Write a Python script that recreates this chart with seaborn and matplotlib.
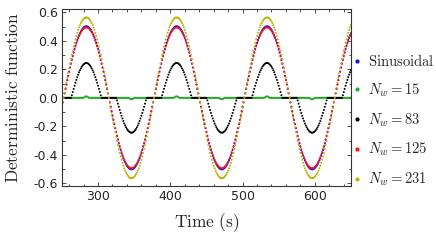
import numpy as np
import pandas as pd
import matplotlib
matplotlib.use("Agg")
import matplotlib.pyplot as plt
import seaborn as sns
from matplotlib.lines import Line2D
from matplotlib.ticker import MultipleLocator, FormatStrFormatter

# one sample every 1.25 s from 250 s to 650 s
t_start, t_step = 250.0, 1.25

sinusoidal = [
    -0.063, -0.032,
    0.0, 0.032, 0.063, 0.094, 0.125, 0.155, 0.185, 0.214, 0.242, 0.270, 0.296, 0.321, 0.344,
    0.367, 0.388, 0.407, 0.425, 0.441, 0.455, 0.468, 0.478, 0.487, 0.494, 0.499, 0.502, 0.503,
    0.502, 0.499, 0.494, 0.487, 0.478, 0.468, 0.455, 0.441, 0.425, 0.407, 0.388, 0.367, 0.344,
    0.321, 0.296, 0.270, 0.242, 0.214, 0.185, 0.155, 0.125, 0.094, 0.063, 0.032, 0.0,
    -0.032, -0.063, -0.094, -0.125, -0.155, -0.185, -0.214, -0.242, -0.270, -0.296, -0.321, -0.344,
    -0.367, -0.388, -0.407, -0.425, -0.441, -0.455, -0.468, -0.478, -0.487, -0.494, -0.499, -0.502, -0.503,
    -0.502, -0.499, -0.494, -0.487, -0.478, -0.468, -0.455, -0.441, -0.425, -0.407, -0.388, -0.367, -0.344,
    -0.321, -0.296, -0.270, -0.242, -0.214, -0.185, -0.155, -0.125, -0.094, -0.063, -0.032,
    0.0, 0.032, 0.063, 0.094, 0.125, 0.155, 0.185, 0.214, 0.242, 0.270, 0.296, 0.321, 0.344,
    0.367, 0.388, 0.407, 0.425, 0.441, 0.455, 0.468, 0.478, 0.487, 0.494, 0.499, 0.502, 0.503,
    0.502, 0.499, 0.494, 0.487, 0.478, 0.468, 0.455, 0.441, 0.425, 0.407, 0.388, 0.367, 0.344,
    0.321, 0.296, 0.270, 0.242, 0.214, 0.185, 0.155, 0.125, 0.094, 0.063, 0.032, 0.0,
    -0.032, -0.063, -0.094, -0.125, -0.155, -0.185, -0.214, -0.242, -0.270, -0.296, -0.321, -0.344,
    -0.367, -0.388, -0.407, -0.425, -0.441, -0.455, -0.468, -0.478, -0.487, -0.494, -0.499, -0.502, -0.503,
    -0.502, -0.499, -0.494, -0.487, -0.478, -0.468, -0.455, -0.441, -0.425, -0.407, -0.388, -0.367, -0.344,
    -0.321, -0.296, -0.270, -0.242, -0.214, -0.185, -0.155, -0.125, -0.094, -0.063, -0.032,
    0.0, 0.032, 0.063, 0.094, 0.125, 0.155, 0.185, 0.214, 0.242, 0.270, 0.296, 0.321, 0.344,
    0.367, 0.388, 0.407, 0.425, 0.441, 0.455, 0.468, 0.478, 0.487, 0.494, 0.499, 0.502, 0.503,
    0.502, 0.499, 0.494, 0.487, 0.478, 0.468, 0.455, 0.441, 0.425, 0.407, 0.388, 0.367, 0.344,
    0.321, 0.296, 0.270, 0.242, 0.214, 0.185, 0.155, 0.125, 0.094, 0.063, 0.032, 0.0,
    -0.032, -0.063, -0.094, -0.125, -0.155, -0.185, -0.214, -0.242, -0.270, -0.296, -0.321, -0.344,
    -0.367, -0.388, -0.407, -0.425, -0.441, -0.455, -0.468, -0.478, -0.487, -0.494, -0.499, -0.502, -0.503,
    -0.502, -0.499, -0.494, -0.487, -0.478, -0.468, -0.455, -0.441, -0.425, -0.407, -0.388, -0.367, -0.344,
    -0.321, -0.296, -0.270, -0.242, -0.214, -0.185, -0.155, -0.125, -0.094, -0.063, -0.032,
    0.0, 0.032, 0.063, 0.094, 0.125, 0.155, 0.185, 0.214, 0.242, 0.270, 0.296, 0.321, 0.344,
    0.367, 0.388, 0.407, 0.425, 0.441, 0.455,
]

nw15 = [
    0, 0, 0, 0, 0, 0, 0, 0, 0, 0, 0, 0, 0, 0, 0, 0, 0, 0, 0, 0, 0, 0, 0, 0, 0,
    0.005, 0.009, 0.010, 0.009, 0.005,
    0, 0, 0, 0, 0, 0, 0, 0, 0, 0, 0, 0, 0, 0, 0, 0, 0, 0, 0, 0, 0, 0, 0,
    0, 0, 0, 0, 0, 0, 0, 0, 0, 0, 0, 0, 0, 0, 0, 0, 0, 0, 0, 0, 0, 0,
    -0.005, -0.009, -0.010, -0.009, -0.005,
    0, 0, 0, 0, 0, 0, 0, 0, 0, 0, 0, 0, 0, 0, 0, 0, 0, 0, 0, 0, 0, 0, 0,
    0, 0, 0, 0, 0, 0, 0, 0, 0, 0, 0, 0, 0, 0, 0, 0, 0, 0, 0, 0, 0, 0,
    0.005, 0.009, 0.010, 0.009, 0.005,
    0, 0, 0, 0, 0, 0, 0, 0, 0, 0, 0, 0, 0, 0, 0, 0, 0, 0, 0, 0, 0, 0, 0,
    0, 0, 0, 0, 0, 0, 0, 0, 0, 0, 0, 0, 0, 0, 0, 0, 0, 0, 0, 0, 0, 0,
    -0.005, -0.009, -0.010, -0.009, -0.005,
    0, 0, 0, 0, 0, 0, 0, 0, 0, 0, 0, 0, 0, 0, 0, 0, 0, 0, 0, 0, 0, 0, 0,
    0, 0, 0, 0, 0, 0, 0, 0, 0, 0, 0, 0, 0, 0, 0, 0, 0, 0, 0, 0, 0, 0,
    0.005, 0.009, 0.010, 0.009, 0.005,
    0, 0, 0, 0, 0, 0, 0, 0, 0, 0, 0, 0, 0, 0, 0, 0, 0, 0, 0, 0, 0, 0, 0,
    0, 0, 0, 0, 0, 0, 0, 0, 0, 0, 0, 0, 0, 0, 0, 0, 0, 0, 0, 0, 0, 0,
    -0.005, -0.009, -0.010, -0.009, -0.005,
    0, 0, 0, 0, 0, 0, 0, 0, 0, 0, 0, 0, 0, 0, 0, 0, 0, 0, 0, 0, 0,
    0, 0, 0, 0, 0, 0, 0, 0, 0, 0, 0, 0, 0, 0, 0, 0, 0, 0, 0, 0,
]

nw83 = [
    0, 0, 0, 0, 0, 0, 0, 0, 0, 0, 0,
    0.018, 0.041, 0.063, 0.085, 0.106, 0.126, 0.145, 0.163, 0.180, 0.194, 0.207, 0.219, 0.228,
    0.235, 0.241, 0.244, 0.245, 0.244, 0.241, 0.235, 0.228, 0.219, 0.207, 0.194, 0.180, 0.163,
    0.145, 0.126, 0.106, 0.085, 0.063, 0.041, 0.018,
    0, 0, 0, 0, 0, 0, 0, 0, 0, 0, 0, 0, 0, 0, 0, 0, 0,
    -0.018, -0.041, -0.063, -0.085, -0.106, -0.126, -0.145, -0.163, -0.180, -0.194, -0.207, -0.219, -0.228,
    -0.235, -0.241, -0.244, -0.245, -0.244, -0.241, -0.235, -0.228, -0.219, -0.207, -0.194, -0.180, -0.163,
    -0.145, -0.126, -0.106, -0.085, -0.063, -0.041, -0.018,
    0, 0, 0, 0, 0, 0, 0, 0, 0, 0, 0, 0, 0, 0, 0, 0, 0,
    0.018, 0.041, 0.063, 0.085, 0.106, 0.126, 0.145, 0.163, 0.180, 0.194, 0.207, 0.219, 0.228,
    0.235, 0.241, 0.244, 0.245, 0.244, 0.241, 0.235, 0.228, 0.219, 0.207, 0.194, 0.180, 0.163,
    0.145, 0.126, 0.106, 0.085, 0.063, 0.041, 0.018,
    0, 0, 0, 0, 0, 0, 0, 0, 0, 0, 0, 0, 0, 0, 0, 0, 0,
    -0.018, -0.041, -0.063, -0.085, -0.106, -0.126, -0.145, -0.163, -0.180, -0.194, -0.207, -0.219, -0.228,
    -0.235, -0.241, -0.244, -0.245, -0.244, -0.241, -0.235, -0.228, -0.219, -0.207, -0.194, -0.180, -0.163,
    -0.145, -0.126, -0.106, -0.085, -0.063, -0.041, -0.018,
    0, 0, 0, 0, 0, 0, 0, 0, 0, 0, 0, 0, 0, 0, 0, 0, 0,
    0.018, 0.041, 0.063, 0.085, 0.106, 0.126, 0.145, 0.163, 0.180, 0.194, 0.207, 0.219, 0.228,
    0.235, 0.241, 0.244, 0.245, 0.244, 0.241, 0.235, 0.228, 0.219, 0.207, 0.194, 0.180, 0.163,
    0.145, 0.126, 0.106, 0.085, 0.063, 0.041, 0.018,
    0, 0, 0, 0, 0, 0, 0, 0, 0, 0, 0, 0, 0, 0, 0, 0, 0,
    -0.018, -0.041, -0.063, -0.085, -0.106, -0.126, -0.145, -0.163, -0.180, -0.194, -0.207, -0.219, -0.228,
    -0.235, -0.241, -0.244, -0.245, -0.244, -0.241, -0.235, -0.228, -0.219, -0.207, -0.194, -0.180, -0.163,
    -0.145, -0.126, -0.106, -0.085, -0.063, -0.041, -0.018,
    0, 0, 0, 0, 0, 0, 0, 0, 0, 0, 0, 0, 0, 0, 0, 0, 0,
    0.018, 0.041, 0.063, 0.085, 0.106, 0.126, 0.145, 0.163, 0.180, 0.194,
]

nw125 = [
    -0.062, -0.031,
    0.0, 0.031, 0.062, 0.093, 0.123, 0.153, 0.182, 0.211, 0.238, 0.265, 0.291, 0.316, 0.339,
    0.361, 0.381, 0.400, 0.418, 0.434, 0.448, 0.460, 0.471, 0.479, 0.486, 0.491, 0.494, 0.495,
    0.494, 0.491, 0.486, 0.479, 0.471, 0.460, 0.448, 0.434, 0.418, 0.400, 0.381, 0.361, 0.339,
    0.316, 0.291, 0.265, 0.238, 0.211, 0.182, 0.153, 0.123, 0.093, 0.062, 0.031, 0.0,
    -0.031, -0.062, -0.093, -0.123, -0.153, -0.182, -0.211, -0.238, -0.265, -0.291, -0.316, -0.339,
    -0.361, -0.381, -0.400, -0.418, -0.434, -0.448, -0.460, -0.471, -0.479, -0.486, -0.491, -0.494, -0.495,
    -0.494, -0.491, -0.486, -0.479, -0.471, -0.460, -0.448, -0.434, -0.418, -0.400, -0.381, -0.361, -0.339,
    -0.316, -0.291, -0.265, -0.238, -0.211, -0.182, -0.153, -0.123, -0.093, -0.062, -0.031,
    0.0, 0.031, 0.062, 0.093, 0.123, 0.153, 0.182, 0.211, 0.238, 0.265, 0.291, 0.316, 0.339,
    0.361, 0.381, 0.400, 0.418, 0.434, 0.448, 0.460, 0.471, 0.479, 0.486, 0.491, 0.494, 0.495,
    0.494, 0.491, 0.486, 0.479, 0.471, 0.460, 0.448, 0.434, 0.418, 0.400, 0.381, 0.361, 0.339,
    0.316, 0.291, 0.265, 0.238, 0.211, 0.182, 0.153, 0.123, 0.093, 0.062, 0.031, 0.0,
    -0.031, -0.062, -0.093, -0.123, -0.153, -0.182, -0.211, -0.238, -0.265, -0.291, -0.316, -0.339,
    -0.361, -0.381, -0.400, -0.418, -0.434, -0.448, -0.460, -0.471, -0.479, -0.486, -0.491, -0.494, -0.495,
    -0.494, -0.491, -0.486, -0.479, -0.471, -0.460, -0.448, -0.434, -0.418, -0.400, -0.381, -0.361, -0.339,
    -0.316, -0.291, -0.265, -0.238, -0.211, -0.182, -0.153, -0.123, -0.093, -0.062, -0.031,
    0.0, 0.031, 0.062, 0.093, 0.123, 0.153, 0.182, 0.211, 0.238, 0.265, 0.291, 0.316, 0.339,
    0.361, 0.381, 0.400, 0.418, 0.434, 0.448, 0.460, 0.471, 0.479, 0.486, 0.491, 0.494, 0.495,
    0.494, 0.491, 0.486, 0.479, 0.471, 0.460, 0.448, 0.434, 0.418, 0.400, 0.381, 0.361, 0.339,
    0.316, 0.291, 0.265, 0.238, 0.211, 0.182, 0.153, 0.123, 0.093, 0.062, 0.031, 0.0,
    -0.031, -0.062, -0.093, -0.123, -0.153, -0.182, -0.211, -0.238, -0.265, -0.291, -0.316, -0.339,
    -0.361, -0.381, -0.400, -0.418, -0.434, -0.448, -0.460, -0.471, -0.479, -0.486, -0.491, -0.494, -0.495,
    -0.494, -0.491, -0.486, -0.479, -0.471, -0.460, -0.448, -0.434, -0.418, -0.400, -0.381, -0.361, -0.339,
    -0.316, -0.291, -0.265, -0.238, -0.211, -0.182, -0.153, -0.123, -0.093, -0.062, -0.031,
    0.0, 0.031, 0.062, 0.093, 0.123, 0.153, 0.182, 0.211, 0.238, 0.265, 0.291, 0.316, 0.339,
    0.361, 0.381, 0.400, 0.418, 0.434, 0.448,
]

nw231 = [
    -0.071, -0.035,
    0.0, 0.035, 0.071, 0.106, 0.141, 0.175, 0.208, 0.241, 0.272, 0.303, 0.332, 0.360, 0.387,
    0.412, 0.435, 0.457, 0.477, 0.495, 0.511, 0.525, 0.537, 0.547, 0.555, 0.561, 0.564, 0.565,
    0.564, 0.561, 0.555, 0.547, 0.537, 0.525, 0.511, 0.495, 0.477, 0.457, 0.435, 0.412, 0.387,
    0.360, 0.332, 0.303, 0.272, 0.241, 0.208, 0.175, 0.141, 0.106, 0.071, 0.035, 0.0,
    -0.035, -0.071, -0.106, -0.141, -0.175, -0.208, -0.241, -0.272, -0.303, -0.332, -0.360, -0.387,
    -0.412, -0.435, -0.457, -0.477, -0.495, -0.511, -0.525, -0.537, -0.547, -0.555, -0.561, -0.564, -0.565,
    -0.564, -0.561, -0.555, -0.547, -0.537, -0.525, -0.511, -0.495, -0.477, -0.457, -0.435, -0.412, -0.387,
    -0.360, -0.332, -0.303, -0.272, -0.241, -0.208, -0.175, -0.141, -0.106, -0.071, -0.035,
    0.0, 0.035, 0.071, 0.106, 0.141, 0.175, 0.208, 0.241, 0.272, 0.303, 0.332, 0.360, 0.387,
    0.412, 0.435, 0.457, 0.477, 0.495, 0.511, 0.525, 0.537, 0.547, 0.555, 0.561, 0.564, 0.565,
    0.564, 0.561, 0.555, 0.547, 0.537, 0.525, 0.511, 0.495, 0.477, 0.457, 0.435, 0.412, 0.387,
    0.360, 0.332, 0.303, 0.272, 0.241, 0.208, 0.175, 0.141, 0.106, 0.071, 0.035, 0.0,
    -0.035, -0.071, -0.106, -0.141, -0.175, -0.208, -0.241, -0.272, -0.303, -0.332, -0.360, -0.387,
    -0.412, -0.435, -0.457, -0.477, -0.495, -0.511, -0.525, -0.537, -0.547, -0.555, -0.561, -0.564, -0.565,
    -0.564, -0.561, -0.555, -0.547, -0.537, -0.525, -0.511, -0.495, -0.477, -0.457, -0.435, -0.412, -0.387,
    -0.360, -0.332, -0.303, -0.272, -0.241, -0.208, -0.175, -0.141, -0.106, -0.071, -0.035,
    0.0, 0.035, 0.071, 0.106, 0.141, 0.175, 0.208, 0.241, 0.272, 0.303, 0.332, 0.360, 0.387,
    0.412, 0.435, 0.457, 0.477, 0.495, 0.511, 0.525, 0.537, 0.547, 0.555, 0.561, 0.564, 0.565,
    0.564, 0.561, 0.555, 0.547, 0.537, 0.525, 0.511, 0.495, 0.477, 0.457, 0.435, 0.412, 0.387,
    0.360, 0.332, 0.303, 0.272, 0.241, 0.208, 0.175, 0.141, 0.106, 0.071, 0.035, 0.0,
    -0.035, -0.071, -0.106, -0.141, -0.175, -0.208, -0.241, -0.272, -0.303, -0.332, -0.360, -0.387,
    -0.412, -0.435, -0.457, -0.477, -0.495, -0.511, -0.525, -0.537, -0.547, -0.555, -0.561, -0.564, -0.565,
    -0.564, -0.561, -0.555, -0.547, -0.537, -0.525, -0.511, -0.495, -0.477, -0.457, -0.435, -0.412, -0.387,
    -0.360, -0.332, -0.303, -0.272, -0.241, -0.208, -0.175, -0.141, -0.106, -0.071, -0.035,
    0.0, 0.035, 0.071, 0.106, 0.141, 0.175, 0.208, 0.241, 0.272, 0.303, 0.332, 0.360, 0.387,
    0.412, 0.435, 0.457, 0.477, 0.495, 0.511,
]

series = {
    "Sinusoidal": sinusoidal,
    "Nw15": nw15,
    "Nw83": nw83,
    "Nw125": nw125,
    "Nw231": nw231,
}
labels = {
    "Sinusoidal": r"$\mathrm{Sinusoidal}$",
    "Nw15": r"$N_w = 15$",
    "Nw83": r"$N_w = 83$",
    "Nw125": r"$N_w = 125$",
    "Nw231": r"$N_w = 231$",
}
colors = {
    "Sinusoidal": "#1010ff",
    "Nw15": "#1fae1f",
    "Nw83": "#000000",
    "Nw125": "#ff1010",
    "Nw231": "#b8b400",
}

for name, vals in series.items():
    assert len(vals) == 321, (name, len(vals))

frames = []
for name, vals in series.items():
    t = t_start + t_step * np.arange(len(vals))
    frames.append(pd.DataFrame({"time": t, "value": vals, "series": name}))
df = pd.concat(frames, ignore_index=True)

sns.set_style("ticks")
plt.rcParams["font.family"] = ["DejaVu Sans"]
plt.rcParams["mathtext.fontset"] = "cm"
plt.rcParams["axes.unicode_minus"] = False

fig, ax = plt.subplots(figsize=(4.36, 2.41), dpi=100)
fig.subplots_adjust(left=0.142, right=0.805, top=0.963, bottom=0.228)

sns.scatterplot(data=df, x="time", y="value", hue="series", hue_order=list(series),
                palette=colors, s=2.0, linewidth=0, legend=False, ax=ax)

ax.set_xlim(250, 650)
ax.set_ylim(-0.62, 0.625)
ax.xaxis.set_major_locator(MultipleLocator(100))
ax.xaxis.set_minor_locator(MultipleLocator(20))
ax.yaxis.set_major_locator(MultipleLocator(0.2))
ax.yaxis.set_minor_locator(MultipleLocator(0.1))
ax.yaxis.set_major_formatter(FormatStrFormatter("%.1f"))
ax.tick_params(which="both", direction="in", top=True, right=True, width=0.6, color="#333333")
ax.tick_params(which="major", length=3.2, labelsize=9, pad=3)
ax.tick_params(which="minor", length=1.8)
for sp in ax.spines.values():
    sp.set_linewidth(0.8)
    sp.set_color("#333333")

ax.set_xlabel(r"$\mathrm{Time\ (s)}$", fontsize=12.5, labelpad=6)
ax.set_ylabel(r"$\mathrm{Deterministic\ function}$", fontsize=12.5, labelpad=8)

handles = [Line2D([], [], marker="o", linestyle="", markersize=2.0, color=colors[k]) for k in series]
ax.legend(handles, [labels[k] for k in series], loc="center left", bbox_to_anchor=(1.0, 0.37),
          frameon=False, fontsize=10.5, handlelength=0.6, handletextpad=0.45, labelspacing=0.85,
          borderaxespad=0.0, borderpad=0.1)

fig.savefig("out.png", dpi=100)
